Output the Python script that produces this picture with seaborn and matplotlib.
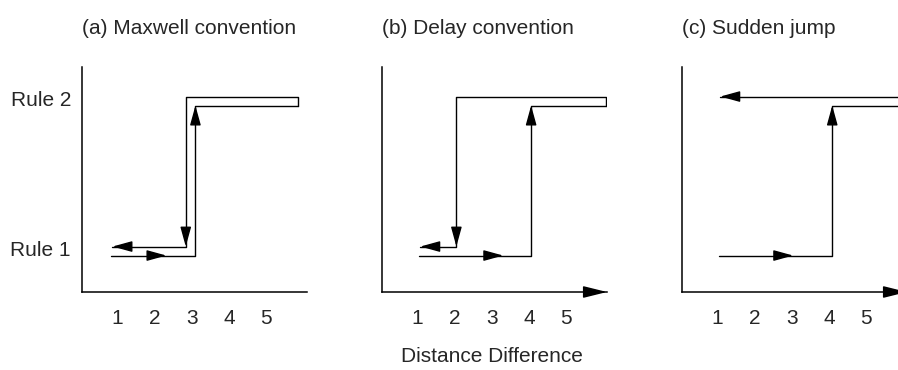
import matplotlib
matplotlib.use('Agg')
import matplotlib.pyplot as plt
import seaborn as sns
import pandas as pd

sns.set_theme(style='white')
plt.rcParams['font.family'] = ['Liberation Sans', 'DejaVu Sans']
plt.rcParams['font.size'] = 15

# ---- data ----
titles = ['(a) Maxwell convention', '(b) Delay convention', '(c) Sudden jump']
rule_labels = ['Rule 1', 'Rule 2']
rule_levels = [1, 2]
x_ticks = [1, 2, 3, 4, 5]
x_label = 'Distance Difference'

# (a) Maxwell convention
a_fwd_x = [0.84, 3.10, 3.10, 5.87]
a_fwd_y = [0.95, 0.95, 1.95, 1.95]
a_back_x = [5.87, 5.87, 2.84, 2.84, 0.87]
a_back_y = [1.95, 2.01, 2.01, 1.01, 1.01]

# (b) Delay convention
b_fwd_x = [1.05, 4.06, 4.06, 6.08]
b_fwd_y = [0.95, 0.95, 1.95, 1.95]
b_back_x = [6.08, 6.08, 2.05, 2.05, 1.08]
b_back_y = [1.95, 2.01, 2.01, 1.01, 1.01]

# (c) Sudden jump
c_fwd_x = [1.05, 4.09, 4.09, 6.3]
c_fwd_y = [0.95, 0.95, 1.95, 1.95]
c_back_x = [6.3, 1.08]
c_back_y = [2.01, 2.01]

# arrow heads: (tip x, tip y, direction)
a_heads = [(2.32, 0.95, 'r'), (3.10, 1.95, 'u'), (2.84, 1.01, 'd'), (0.87, 1.01, 'l')]
b_heads = [(3.31, 0.95, 'r'), (4.06, 1.95, 'u'), (2.05, 1.01, 'd'), (1.08, 1.01, 'l')]
c_heads = [(3.04, 0.95, 'r'), (4.09, 1.95, 'u'), (1.08, 2.01, 'l')]

panels = [
    (a_fwd_x, a_fwd_y, a_back_x, a_back_y, a_heads, False),
    (b_fwd_x, b_fwd_y, b_back_x, b_back_y, b_heads, True),
    (c_fwd_x, c_fwd_y, c_back_x, c_back_y, c_heads, True),
]

xlim = (0.05, 6.1)
ylim = (0.707, 2.207)
lw = 1.0
head = '-|>,head_length=1.2,head_width=0.33'
back_off = {'r': (-13, 0), 'l': (13, 0), 'u': (0, -13), 'd': (0, 13)}

fig = plt.figure(figsize=(8.98, 3.70), dpi=100)
lefts = [82 / 898, 382 / 898, 682 / 898]

for i, (fx, fy, bx, by, heads, x_arrow) in enumerate(panels):
    ax = fig.add_axes([lefts[i], 78 / 370, 225 / 898, 225 / 370])
    fwd = pd.DataFrame({'x': fx, 'y': fy})
    back = pd.DataFrame({'x': bx, 'y': by})
    sns.lineplot(data=fwd, x='x', y='y', sort=False, estimator=None,
                 color='black', lw=lw, ax=ax)
    sns.lineplot(data=back, x='x', y='y', sort=False, estimator=None,
                 color='black', lw=lw, ax=ax)
    for hx, hy, d in heads:
        ax.annotate('', xy=(hx, hy), xytext=back_off[d], textcoords='offset points',
                    arrowprops=dict(arrowstyle=head, mutation_scale=10,
                                    color='black', lw=lw,
                                    shrinkA=0, shrinkB=0))
    ax.set_xlim(*xlim)
    ax.set_ylim(*ylim)
    for s in ['top', 'right']:
        ax.spines[s].set_visible(False)
    for s in ['left', 'bottom']:
        ax.spines[s].set_color('black')
        ax.spines[s].set_linewidth(1.1)
    if x_arrow:
        ax.annotate('', xy=(xlim[1], ylim[0]), xytext=(-16, 0), textcoords='offset points',
                    arrowprops=dict(arrowstyle='-|>,head_length=1.45,head_width=0.36',
                                    mutation_scale=10, color='black', lw=1.1,
                                    shrinkA=0, shrinkB=0),
                    annotation_clip=False)
    ax.set_xticks(x_ticks)
    ax.set_xticklabels([str(t) for t in x_ticks])
    ax.tick_params(axis='x', length=0, pad=12, labelsize=15)
    if i == 0:
        ax.set_yticks(rule_levels)
        ax.set_yticklabels(rule_labels)
        ax.tick_params(axis='y', length=0, pad=8, labelsize=15)
    else:
        ax.set_yticks([])
    ax.set_xlabel('')
    ax.set_ylabel('')
    ax.set_title(titles[i], loc='left', pad=24, fontsize=15)

fig.text(492 / 898, 1 - 356 / 370, x_label, ha='center', va='center', fontsize=15)

fig.savefig('out.png', dpi=100)
